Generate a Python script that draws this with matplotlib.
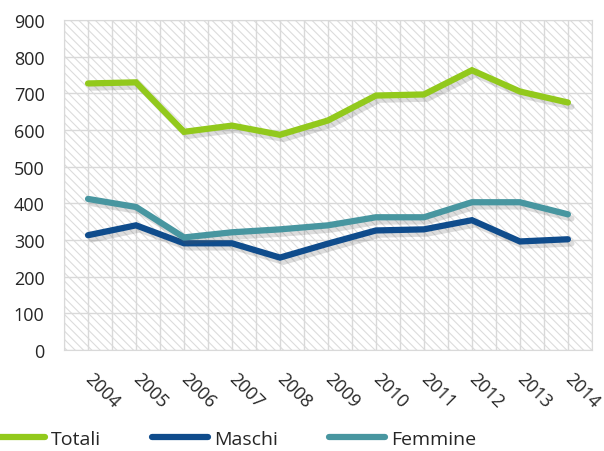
import matplotlib
matplotlib.use("Agg")
import matplotlib.pyplot as plt
import matplotlib.patheffects as pe
from matplotlib.patches import Rectangle
import numpy as np

plt.rcParams['font.family'] = ['Open Sans', 'DejaVu Sans']
plt.rcParams['hatch.linewidth'] = 0.8

years = ['2004', '2005', '2006', '2007', '2008', '2009', '2010', '2011', '2012', '2013', '2014']
totali = [727, 730, 595, 612, 587, 626, 694, 697, 763, 705, 675]
maschi = [313, 340, 291, 291, 252, 290, 326, 329, 354, 296, 302]
femmine = [412, 390, 307, 321, 329, 340, 362, 362, 403, 403, 370]

series = [('Totali', totali, '#92C91C'),
          ('Maschi', maschi, '#0F4C8C'),
          ('Femmine', femmine, '#4896A0')]

fig = plt.figure(figsize=(6.04, 4.52), dpi=100)
ax = fig.add_axes([0.106, 0.2235, 0.874, 0.73])

x = np.arange(len(years))
ax.set_xlim(-0.5, len(years) - 0.5)
ax.set_ylim(0, 900)

ax.add_patch(Rectangle((0, 0), 1, 1, transform=ax.transAxes, fill=False,
                       hatch='\\\\\\\\', edgecolor='#DCDCDC', lw=0, zorder=0))

ax.set_yticks(np.arange(0, 901, 100))
ax.set_xticks(x)
ax.grid(True, which='major', axis='y', color='#D9D9D9', lw=1, zorder=0.5)
ax.grid(False, which='major', axis='x')
for gx in np.arange(-0.5, len(years), 0.5):
    ax.axvline(gx, color='#D9D9D9', lw=1, zorder=0.5)
ax.tick_params(which='both', length=0)
ax.tick_params(axis='y', pad=14, labelsize=13, labelcolor='#262626')
ax.set_xticklabels(years, rotation=-45, ha='left', va='center', rotation_mode='anchor',
                   fontsize=13, color='#262626')
ax.tick_params(axis='x', pad=18)
for s in ax.spines.values():
    s.set_color('#D9D9D9')

for name, vals, col in series:
    ax.plot(x, vals, color=col, lw=4.5, label=name, solid_capstyle='round',
            solid_joinstyle='miter', zorder=3,
            path_effects=[pe.SimpleLineShadow(offset=(2.5, -3), shadow_color='#555555', alpha=0.2),
                          pe.Normal()])

handles, labels = ax.get_legend_handles_labels()
leg = fig.legend(handles, labels, loc='center', bbox_to_anchor=(0.385, 0.027), ncol=3,
                 frameon=False, fontsize=14, handlelength=2.9, handletextpad=0.3,
                 columnspacing=2.6)
for t in leg.get_texts():
    t.set_color('#262626')
for h in leg.legend_handles:
    h.set_path_effects([])

fig.savefig('out.png', dpi=100)
